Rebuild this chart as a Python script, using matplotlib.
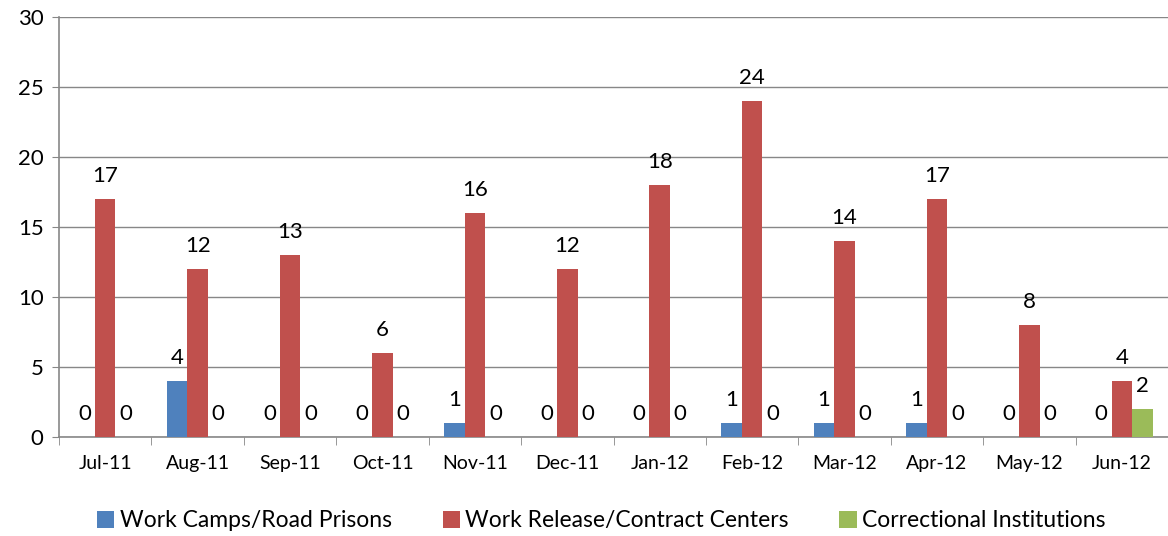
import matplotlib.pyplot as plt
import numpy as np

plt.rcParams['font.family'] = ['Lato', 'DejaVu Sans']

meses = ['Jul-11', 'Aug-11', 'Sep-11', 'Oct-11', 'Nov-11', 'Dec-11',
         'Jan-12', 'Feb-12', 'Mar-12', 'Apr-12', 'May-12', 'Jun-12']
work_camps = [0, 4, 0, 0, 1, 0, 0, 1, 1, 1, 0, 0]
work_release = [17, 12, 13, 6, 16, 12, 18, 24, 14, 17, 8, 4]
correctional = [0, 0, 0, 0, 0, 0, 0, 0, 0, 0, 0, 2]

series = [
    ('Work Camps/Road Prisons', work_camps, '#4F81BD'),
    ('Work Release/Contract Centers', work_release, '#C0504D'),
    ('Correctional Institutions', correctional, '#9BBB59'),
]

fig = plt.figure(figsize=(11.68, 5.36), dpi=100)
ax = fig.add_axes([59 / 1168, 1 - 437 / 536, 1 - 59 / 1168, 420 / 536])

x = np.arange(len(meses))
largura = 1 / 4.5
for i, (nome, valores, cor) in enumerate(series):
    pos = x + (i - 1) * largura
    ax.bar(pos, valores, largura, color=cor, label=nome, zorder=3)
    for p, v in zip(pos, valores):
        ax.annotate(str(v), (p, v), xytext=(0, 9), textcoords='offset points',
                    ha='center', va='bottom', fontsize=16, color='black')

ax.set_xlim(-0.5, len(meses) - 0.5)
ax.set_ylim(0, 30)
ax.set_yticks(range(0, 31, 5))
ax.tick_params(axis='y', labelsize=16, length=5, color='#878787', pad=6)
ax.set_xticks(x)
ax.set_xticklabels(meses)
ax.set_xticks(np.arange(-0.5, len(meses), 1), minor=True)
ax.tick_params(axis='x', which='major', length=0, labelsize=14, pad=13)
ax.tick_params(axis='x', which='minor', length=6, color='#878787')
ax.grid(axis='y', color='#878787', linewidth=1, zorder=0)

for lado in ['top', 'right']:
    ax.spines[lado].set_visible(False)
for lado in ['left', 'bottom']:
    ax.spines[lado].set_color('#878787')
    ax.spines[lado].set_linewidth(1.2)

fig.legend(loc='lower center', bbox_to_anchor=(0.515, -0.03), ncol=3, frameon=False,
           fontsize=16.5, handlelength=0.75, handleheight=0.75, handletextpad=0.25,
           columnspacing=2.2)

fig.savefig('out.png', dpi=100)
